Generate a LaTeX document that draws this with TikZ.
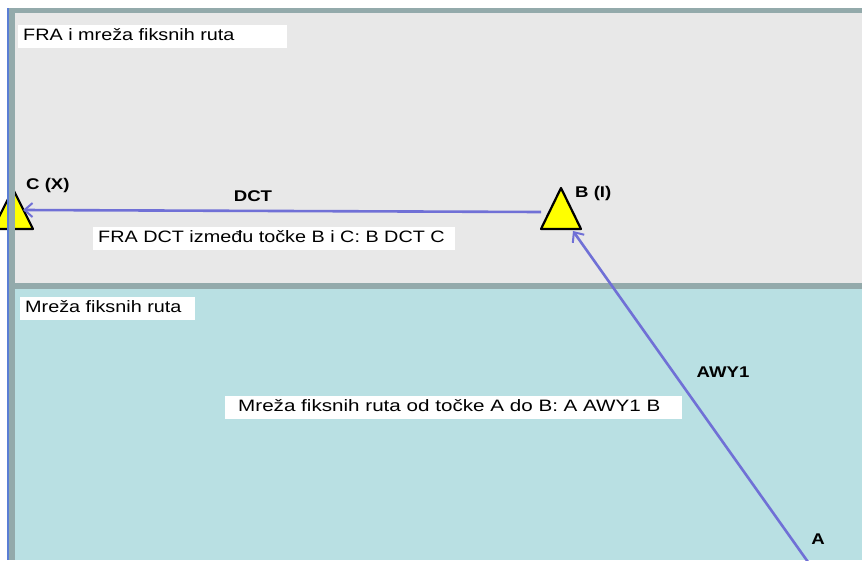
\documentclass[tikz,border=0pt]{standalone}
\usepackage{fontspec}
\setmainfont{Liberation Sans}
\newfontfamily\widefont[FakeStretch=1.2]{Liberation Sans}
\newfontfamily\widerfont[FakeStretch=1.25]{Liberation Sans}
\usetikzlibrary{arrows.meta}
\definecolor{greyarea}{HTML}{E8E8E8}
\definecolor{cyanarea}{HTML}{B9E0E3}
\definecolor{frameteal}{HTML}{93AAAB}
\definecolor{frameblue}{HTML}{5A7ED4}
\definecolor{route}{HTML}{7070D6}
\definecolor{pointyellow}{HTML}{FFFF00}
\tikzset{
  boxlabel/.style={fill=white, anchor=west, inner xsep=5pt, inner ysep=4pt, font=\widefont\fontsize{16.5}{18}\selectfont, text height=12pt, text depth=3pt},
  ptlabel/.style={font=\widefont\bfseries\fontsize{15.5}{17}\selectfont, inner sep=0pt},
  tri/.style={fill=pointyellow, draw=black, line width=2.2pt, line join=round},
  routeline/.style={draw=route, line width=2.6pt, -{Straight Barb[length=8pt,width=14pt,line width=2pt]}}
}
\begin{document}
\begin{tikzpicture}[x=1pt,y=-1pt]
\useasboundingbox (0,0) rectangle (862,560);
\fill[white] (0,0) rectangle (862,560);
% areas
\fill[greyarea] (9,8) rectangle (862,285);
\fill[cyanarea] (9,285) rectangle (862,560);
% C triangle (partly hidden by frame)
\coordinate (C) at (13,210);
\path[tri] (-7,229) -- (13,189) -- (33,229) -- cycle;
% frame
\fill[frameteal] (9,8) rectangle (862,13);
\fill[frameteal] (9,8) rectangle (15,560);
\fill[frameteal] (9,283) rectangle (862,289);
\fill[frameblue] (7,8) rectangle (9,560);
% B triangle
\coordinate (B) at (561,212);
\path[tri] (541,229) -- (561,188) -- (581,229) -- cycle;
\coordinate (Bleft) at (541,212);
\coordinate (Bbase) at (573,231);
\coordinate (A) at (808,562);
\coordinate (Cend) at (23,210);
% routes
\draw[routeline] (Bleft) -- (Cend);
\draw[routeline] (A) -- (Bbase);
% labels
\node[boxlabel] (t1) at (18,36) {\makebox[259pt][l]{FRA i mreža fiksnih ruta}};
\node[boxlabel] (t2) at (20,308) {\makebox[165pt][l]{Mreža fiksnih ruta}};
\node[boxlabel] (t3) at (93,238) {\makebox[352pt][l]{FRA DCT između točke B i C: B DCT C}};
\node[boxlabel] (t4) at (225,407) {\makebox[447pt][l]{\hspace*{8pt}\widerfont Mreža fiksnih ruta od točke A do B: A AWY1 B}};
\node[ptlabel, anchor=west] (lc) at (26,185) {C (X)};
\node[ptlabel] (ldct) at (253,196) {DCT};
\node[ptlabel, anchor=west] (lb) at (575,193) {B (I)};
\node[ptlabel] (lawy) at (723,372) {AWY1};
\node[ptlabel] (la) at (818,539) {A};
\end{tikzpicture}
\end{document}
